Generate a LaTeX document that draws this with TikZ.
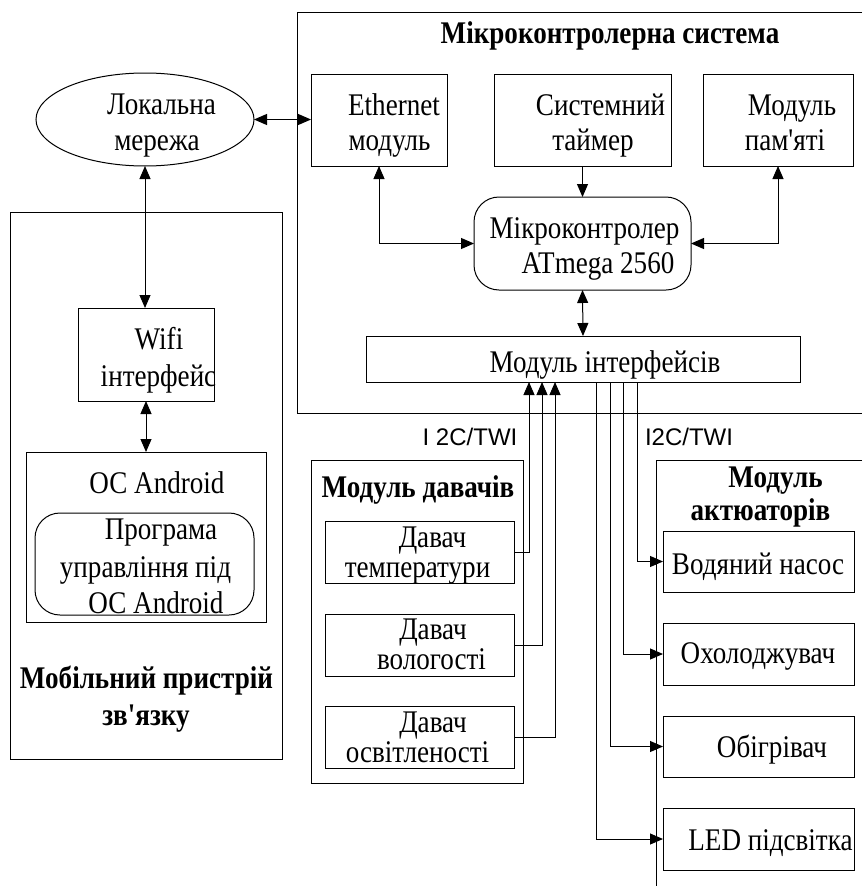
\documentclass[tikz,border=0pt]{standalone}
\usepackage{fontspec}
\setmainfont{Liberation Serif}[Ligatures=TeXOff, FakeStretch=0.86]
\newfontfamily\labelfont{Liberation Sans}
\usetikzlibrary{arrows.meta,calc,shapes.geometric}
\begin{document}
\begin{tikzpicture}[x=1pt,y=-1pt,
  box/.style={draw, line width=1pt, inner sep=0pt, outer sep=0pt},
  rbox/.style={box, rounded corners=25pt},
  txt/.style={inner sep=0pt, anchor=base, font=\fontsize{31.5}{36}\selectfont},
  btxt/.style={inner sep=0pt, anchor=base, font=\fontsize{31.5}{36}\selectfont\bfseries},
  stxt/.style={inner sep=0pt, anchor=base, font=\labelfont\fontsize{24}{28}\selectfont},
  arr/.style={-{Triangle[length=13pt,width=11pt]}, line width=1pt},
  biarr/.style={{Triangle[length=13pt,width=11pt]}-{Triangle[length=13pt,width=11pt]}, line width=1pt}]
\useasboundingbox (0,0) rectangle (862,886);

% open frames
\draw[line width=1pt] (862,12) -- (297,12) -- (297,413) -- (862,413);
\draw[line width=1pt] (862,460) -- (656,460) -- (656,886);

% boxes
\node[box, ellipse, minimum width=218pt, minimum height=93pt] (lan) at (145,119.5) {};
\node[box, minimum width=136pt, minimum height=92pt] (eth) at (379,120) {};
\node[box, minimum width=177pt, minimum height=92pt] (tim) at (582.5,120) {};
\node[box, minimum width=150pt, minimum height=92pt] (mem) at (778,120) {};
\node[rbox, minimum width=217pt, minimum height=93pt] (mcu) at (582.5,243.5) {};
\node[box, minimum width=434pt, minimum height=46pt] (ifc) at (583,359) {};

\node[box, minimum width=272pt, minimum height=547pt] (mob) at (146,485.5) {};
\node[box, minimum width=136pt, minimum height=93pt] (wifi) at (146,354.5) {};
\node[box, minimum width=240pt, minimum height=170pt] (os) at (146,537) {};
\node[rbox, minimum width=219pt, minimum height=102pt] (prog) at (144.5,564) {};

\node[box, minimum width=212pt, minimum height=323pt] (sens) at (417,621.5) {};
\node[box, minimum width=189pt, minimum height=62pt] (temp) at (419.5,552) {};
\node[box, minimum width=189pt, minimum height=62pt] (hum) at (419.5,645) {};
\node[box, minimum width=189pt, minimum height=62pt] (light) at (419.5,737) {};

\node[box, minimum width=191pt, minimum height=61pt] (pump) at (758.5,561.5) {};
\node[box, minimum width=191pt, minimum height=62pt] (cool) at (758.5,654) {};
\node[box, minimum width=191pt, minimum height=61pt] (heat) at (758.5,746.5) {};
\node[box, minimum width=191pt, minimum height=62pt] (led) at (758.5,839) {};

% texts
\node[btxt] (tsys) at (610,43) {Мікроконтролерна система};
\node[txt] (tlan1) at (161.5,114) {Локальна};
\node[txt] (tlan2) at (157,150) {мережа};
\node[txt] (teth1) at (394,115) {Ethernet};
\node[txt] (teth2) at (389.5,150) {модуль};
\node[txt] (ttim1) at (600.5,115) {Системний};
\node[txt] (ttim2) at (593,150) {таймер};
\node[txt] (tmem1) at (792,115) {Модуль};
\node[txt] (tmem2) at (785,150) {пам'яті};
\node[txt] (tmcu1) at (584.5,238) {Мікроконтролер};
\node[txt] (tmcu2) at (598,273) {ATmega 2560};
\node[txt] (tifc) at (605,372) {Модуль інтерфейсів};
\node[stxt] (tl1) at (470,445) {I 2C/TWI};
\node[stxt] (tl2) at (689,445) {I2C/TWI};
\node[btxt] (tsens) at (418,497) {Модуль давачів};
\node[txt] (ttemp1) at (432.5,547) {Давач};
\node[txt] (ttemp2) at (417.5,577) {температури};
\node[txt] (thum1) at (433,639) {Давач};
\node[txt] (thum2) at (431.5,669) {вологості};
\node[txt] (tlight1) at (433,732) {Давач};
\node[txt] (tlight2) at (417.5,762) {освітленості};
\node[btxt] (tact1) at (775.5,487) {Модуль};
\node[btxt] (tact2) at (760.5,520) {актюаторів};
\node[txt] (tpump) at (758,574) {Водяний насос};
\node[txt] (tcool) at (758,663) {Охолоджувач};
\node[txt] (theat) at (772,757) {Обігрівач};
\node[txt] (tled) at (770.5,850) {LED підсвітка};
\node[txt] (twifi1) at (159,349) {Wifi};
\node[txt] (twifi2) at (158.5,386) {інтерфейс};
\node[txt] (tos) at (157,493) {ОС Android};
\node[txt] (tprog1) at (161,539) {Програма};
\node[txt] (tprog2) at (145.5,577) {управління під};
\node[txt] (tprog3) at (156,613) {ОС Android};
\node[btxt] (tmob1) at (146.5,688) {Мобільний пристрій};
\node[btxt] (tmob2) at (146,725) {зв'язку};

% connector points on the interface module
\coordinate (s1) at ($(ifc.south west)+(163,0)$);
\coordinate (s2) at ($(ifc.south west)+(176,0)$);
\coordinate (s3) at ($(ifc.south west)+(189,0)$);
\coordinate (a1) at ($(ifc.south west)+(271,0)$);
\coordinate (a2) at ($(ifc.south west)+(257,0)$);
\coordinate (a3) at ($(ifc.south west)+(244,0)$);
\coordinate (a4) at ($(ifc.south west)+(230,0)$);

% connectors
\draw[biarr] (lan.east) -- (lan.east -| eth.west);
\draw[biarr] (lan.south) -- (lan.south |- wifi.north);
\draw[biarr] (wifi.south) -- (os.north);
\draw[biarr] (eth.south) |- (mcu.west);
\draw[arr] (tim.south) -- (mcu.north);
\draw[biarr] (mem.south) |- (mcu.east);
\draw[biarr] (mcu.south) -- (ifc.north);
\draw[arr] (temp.east) -| (s1);
\draw[arr] (hum.east) -| (s2);
\draw[arr] (light.east) -| (s3);
\draw[arr] (a1) |- (pump.west);
\draw[arr] (a2) |- (cool.west);
\draw[arr] (a3) |- (heat.west);
\draw[arr] (a4) |- (led.west);
\end{tikzpicture}
\end{document}
